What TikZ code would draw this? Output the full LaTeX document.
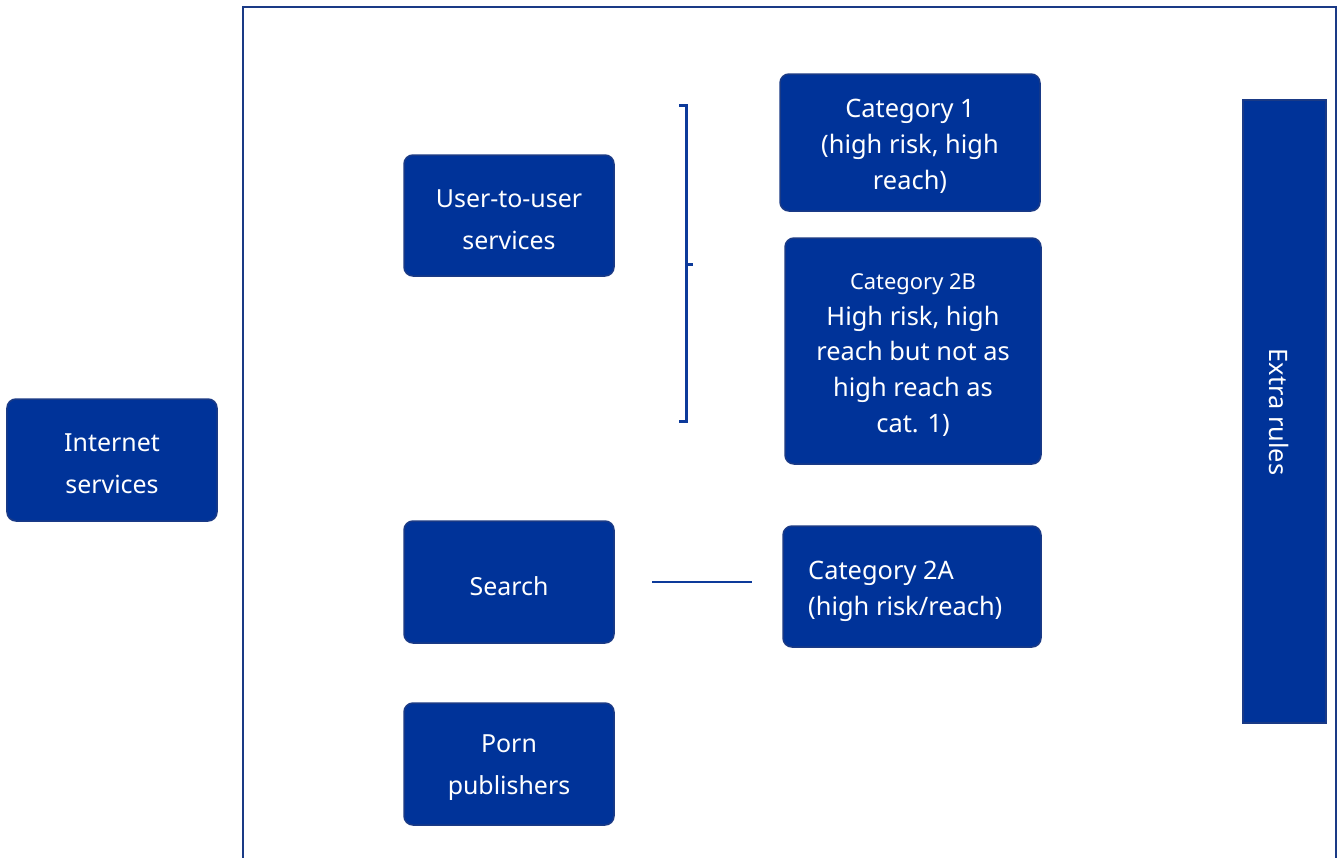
\documentclass[tikz,border=0pt]{standalone}
\usepackage{fontspec}
\setmainfont{Noto Sans}
\definecolor{boxblue}{HTML}{003399}
\definecolor{boxedge}{HTML}{1A3A86}
\definecolor{framecol}{HTML}{1A3A86}
\definecolor{linecol}{HTML}{0D3A9A}
\tikzset{
  box/.style={draw=boxedge, fill=boxblue, rounded corners=9bp, line width=1.5bp,
    inner sep=0pt},
  bigtxt/.style={font=\fontsize{25}{42}\selectfont},
  cattxt/.style={font=\fontsize{25.5}{36}\selectfont},
  plain/.style={text=white, inner sep=0pt, align=center},
  linkline/.style={draw=linecol, line width=2bp},
  bracketline/.style={draw=linecol, line width=3bp},
}
\begin{document}
\begin{tikzpicture}[x=1bp,y=-1bp]
\useasboundingbox (0,0) rectangle (1341,857);
% outer frame (open at bottom)
\draw[framecol, line width=2.7bp] (243,870) -- (243,7) -- (1336,7) -- (1336,870);

% left box
\node[box, minimum width=210bp, minimum height=122bp] (internet) at (112,460) {};
\node[plain, bigtxt] (internettxt) at (112,464) {Internet\\services};

% service boxes
\node[box, minimum width=210bp, minimum height=121bp] (u2u) at (509,215.5) {};
\node[plain, bigtxt] (u2utxt) at (509,220) {User-to-user\\services};
\node[box, minimum width=210bp, minimum height=122bp] (search) at (509,582) {};
\node[plain, bigtxt] (searchtxt) at (509,586) {Search};
\node[box, minimum width=210bp, minimum height=122bp] (porn) at (509,764) {};
\node[plain, bigtxt] (porntxt) at (509,768) {Porn\\publishers};

% category boxes
\node[box, minimum width=260bp, minimum height=137bp] (cat1) at (910,142.5) {};
\node[plain, cattxt] (cat1txt) at (910,146) {Category 1\\(high risk, high\\reach)};
\node[box, minimum width=256bp, minimum height=226bp] (cat2b) at (913,351) {};
\node[plain, cattxt] (cat2btxt) at (913,355)
  {{\fontsize{22}{36}\selectfont Category 2B}\\High risk, high\\reach but not as\\high reach as\\cat. 1)};
\node[box, minimum width=258bp, minimum height=121bp] (cat2a) at (912,586.5) {};
\node[plain, align=left, cattxt, anchor=west] (cat2atxt) at (808,591) {Category 2A\\(high risk/reach)};

% extra rules bar
\node[draw=boxedge, fill=boxblue, line width=1.5bp, minimum width=83bp, minimum height=623bp, inner sep=0pt] (extra) at (1284.5,411.5) {};
\node[plain, rotate=-90, font=\fontsize{25.5}{30}\selectfont] (extratxt) at (1279,412) {Extra rules};

% bracket
\coordinate (bt0) at (679,105);
\coordinate (bt1) at (686,105);
\coordinate (bb1) at (686,421);
\coordinate (bb0) at (679,421);
\coordinate (bm0) at (686,264);
\coordinate (bm1) at (693,264);
\draw[bracketline] (bt0) -- (bt1) -- (bb1) -- (bb0);
\draw[bracketline] (bm0) -- (bm1);

% line between search and cat 2A
\coordinate (l0) at (652,582);
\coordinate (l1) at (752,582);
\draw[linkline] (l0) -- (l1);
\end{tikzpicture}
\end{document}
